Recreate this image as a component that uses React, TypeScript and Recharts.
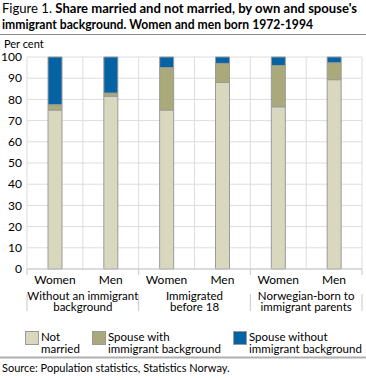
import React from 'react';
import { BarChart, Bar, XAxis, YAxis, CartesianGrid } from 'recharts';

const sexes = ['Women', 'Men', 'Women', 'Men', 'Women', 'Men'];
const groupLabels = [
  ['Without an immigrant', 'background'],
  ['Immigrated', 'before 18'],
  ['Norwegian-born to', 'immigrant parents'],
];
const notMarried = [75, 81.5, 75, 88, 76.5, 89.3];
const spouseWith = [2.5, 1.5, 20, 9, 19.5, 8];
const spouseWithout = [22.5, 17, 5, 3, 4, 2.7];
const seriesKeys = ['notMarried', 'spouseWith', 'spouseWithout'];
const seriesNames = [
  ['Not', 'married'],
  ['Spouse with', 'immigrant background'],
  ['Spouse without', 'immigrant background'],
];
const colors = ['#d9d8bf', '#aaa979', '#0563a3'];
const yTicks = [0, 10, 20, 30, 40, 50, 60, 70, 80, 90, 100];
const titlePrefix = 'Figure 1. ';
const titleLine1 = "Share married and not married, by own and spouse's";
const titleLine2 = 'immigrant background. Women and men born 1972-1994';
const yLabel = 'Per cent';
const source = 'Source: Population statistics, Statistics Norway.';

const data = sexes.map((s, i) => ({
  sex: s,
  group: Math.floor(i / 2),
  notMarried: notMarried[i],
  spouseWith: spouseWith[i],
  spouseWithout: spouseWithout[i],
}));

const FONT = 'Lato, "Liberation Sans", Arial, sans-serif';
const W = 366;
const CH = 320;
const LEFT = 27;
const RIGHT = 4;
const BAND = (W - LEFT - RIGHT) / sexes.length;

const GroupTick = (props: any) => {
  const { x, y, index } = props;
  const lines: any[] = [];
  const sepColor = '#c8c8c8';
  if (index % 2 === 0) {
    const lx = x - BAND / 2;
    lines.push(<line key="a" x1={lx} x2={lx} y1={y - 20} y2={y - 14} stroke={sepColor} />);
    lines.push(<line key="b" x1={lx} x2={lx} y1={y + 5} y2={y + 22} stroke={sepColor} />);
  }
  if (index === sexes.length - 1) {
    const rx = x + BAND / 2;
    lines.push(<line key="c" x1={rx} x2={rx} y1={y - 20} y2={y - 14} stroke={sepColor} />);
    lines.push(<line key="d" x1={rx} x2={rx} y1={y + 5} y2={y + 22} stroke={sepColor} />);
  }
  const g = Math.floor(index / 2);
  return (
    <g>
      {lines}
      {index % 2 === 0 && (
        <text x={x + BAND / 2} y={y + 10.5} textAnchor="middle" fontSize={11.5} fill="#000" fontFamily={FONT}>
          <tspan x={x + BAND / 2} dy={0}>{groupLabels[g][0]}</tspan>
          <tspan x={x + BAND / 2} dy={11.5}>{groupLabels[g][1]}</tspan>
        </text>
      )}
    </g>
  );
};

export default function App() {
  return (
    <div style={{ position: 'absolute', left: 0, top: 0, width: W, height: 380, background: '#fff', fontFamily: FONT }}>
      <div style={{ position: 'absolute', left: 0, top: 0 }}>
        <BarChart
          width={W}
          height={CH}
          data={data}
          margin={{ top: 57, right: RIGHT, left: 0, bottom: 0 }}
          barSize={14}
        >
          <CartesianGrid
            stroke="#dddddd"
            horizontal={true}
            vertical={true}
            verticalCoordinatesGenerator={({ offset }: any) =>
              Array.from({ length: sexes.length + 1 }, (_, i) => offset.left + (i * offset.width) / sexes.length)
            }
          />
          <YAxis
            type="number"
            domain={[0, 100]}
            ticks={yTicks}
            width={LEFT}
            axisLine={false}
            tickLine={false}
            tickSize={3}
            tickMargin={2}
            tick={{ fontSize: 12, fill: '#000', fontFamily: FONT }}
            interval={0}
          />
          <XAxis
            dataKey="sex"
            height={20}
            axisLine={{ stroke: '#c8c8c8' }}
            tickLine={false}
            tickSize={4}
            tickMargin={2}
            interval={0}
            tick={{ fontSize: 12, fill: '#000', fontFamily: FONT }}
          />
          <XAxis
            xAxisId="group"
            dataKey="sex"
            height={31}
            axisLine={false}
            tickLine={false}
            tickSize={0}
            tickMargin={0}
            interval={0}
            tick={<GroupTick />}
          />
          {seriesKeys.map((k, i) => (
            <Bar
              key={k}
              dataKey={k}
              stackId="a"
              fill={colors[i]}
              stroke="#9a9a9a"
              strokeWidth={1}
              isAnimationActive={false}
            />
          ))}
        </BarChart>
      </div>
      <svg width={W} height={380} style={{ position: 'absolute', left: 0, top: 0, pointerEvents: 'none' }}>
        <text x={2} y={13} fontSize={13.5} fontFamily={FONT} fill="#000" textLength={355} lengthAdjust="spacingAndGlyphs">
          <tspan>{titlePrefix}</tspan>
          <tspan fontWeight="bold">{titleLine1}</tspan>
        </text>
        <text x={2} y={29} fontSize={13.5} fontFamily={FONT} fill="#000" fontWeight="bold" textLength={311} lengthAdjust="spacingAndGlyphs">
          {titleLine2}
        </text>
        <line x1={0} x2={W} y1={34.5} y2={34.5} stroke="#8a8a8a" strokeWidth={1.2} />
        <text x={4} y={47.5} fontSize={11} fontFamily={FONT} fill="#000">{yLabel}</text>
        {seriesNames.map((n, i) => {
          const xs = [25, 92, 233][i];
          return (
            <g key={i}>
              <rect x={xs + 0.5} y={331.5} width={13} height={13} fill={colors[i]} stroke="#9a9a9a" />
              <text x={xs + 16} y={341} fontSize={11.5} fontFamily={FONT} fill="#000">
                <tspan x={xs + 16} dy={0}>{n[0]}</tspan>
                <tspan x={xs + 16} dy={12}>{n[1]}</tspan>
              </text>
            </g>
          );
        })}
        <line x1={0} x2={W} y1={357.5} y2={357.5} stroke="#b0b0b0" strokeWidth={2} />
        <text x={2} y={372} fontSize={11} fontFamily={FONT} fill="#000">{source}</text>
      </svg>
    </div>
  );
}
